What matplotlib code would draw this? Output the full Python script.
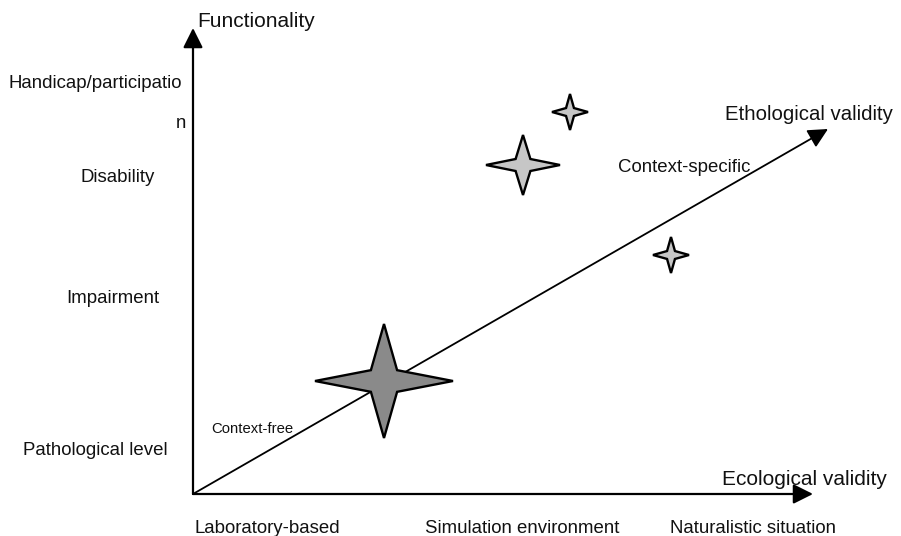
import matplotlib
matplotlib.use('Agg')
import matplotlib.pyplot as plt
from matplotlib.patches import Polygon

plt.rcParams['font.family'] = ['Liberation Sans', 'DejaVu Sans']

# diagram layout in pixel units of the 901x536 picture
origin = (193, 494)
axis_tips = {'functionality': (193, 28), 'ecological': (813, 494), 'ethological': (828, 129)}

# left-hand labels (functional level) and bottom labels (setting)
level_labels = ['Handicap/participatio', 'n', 'Disability', 'Impairment', 'Pathological level']
level_x = [8, 176, 80, 66, 23]
level_y = [88, 128, 182, 303, 455]

setting_labels = ['Laboratory-based', 'Simulation environment', 'Naturalistic situation']
setting_x = [195, 425, 670]
setting_y = 533

# stars: centre, half-width, half-height, fill
star_cx = [384, 523, 570, 671]
star_cy = [381, 165, 112, 255]
star_rx = [69, 37, 18, 18]
star_ry = [57, 30, 18, 18]
star_fill = ['#8a8a8a', '#c6c6c6', '#c6c6c6', '#c6c6c6']
inner_ratio = [0.19, 0.2, 0.22, 0.22]


def star_points(cx, cy, rx, ry, k):
    ix, iy = rx * k, ry * k
    return [(cx + rx, cy), (cx + ix, cy - iy), (cx, cy - ry), (cx - ix, cy - iy),
            (cx - rx, cy), (cx - ix, cy + iy), (cx, cy + ry), (cx + ix, cy + iy)]


fig = plt.figure(figsize=(9.01, 5.36), dpi=100)
ax = fig.add_axes([0, 0, 1, 1])
ax.set_xlim(0, 901)
ax.set_ylim(536, 0)
ax.axis('off')

# axes arrows
for name, tip in axis_tips.items():
    lw = 1.3 if name == 'ethological' else 1.6
    ax.annotate('', xy=tip, xytext=origin,
                arrowprops=dict(arrowstyle='-|>,head_length=0.6,head_width=0.3',
                                mutation_scale=20, lw=lw, color='black',
                                shrinkA=0, shrinkB=0))

# stars
for cx, cy, rx, ry, fc, k in zip(star_cx, star_cy, star_rx, star_ry, star_fill, inner_ratio):
    ax.add_patch(Polygon(star_points(cx, cy, rx, ry, k), closed=True,
                         facecolor=fc, edgecolor='black', lw=1.7, zorder=3))

txt = '#111111'
ax.text(197, 27, 'Functionality', fontsize=15, color=txt, va='baseline')
ax.text(722, 485, 'Ecological validity', fontsize=15, color=txt, va='baseline')
ax.text(725, 120, 'Ethological validity', fontsize=14.7, color=txt, va='baseline')
ax.text(618, 172, 'Context-specific', fontsize=13.4, color=txt, va='baseline')
ax.text(211, 433, 'Context-free', fontsize=10.7, color=txt, va='baseline')

for lab, x, y in zip(level_labels, level_x, level_y):
    ax.text(x, y, lab, fontsize=13.4, color=txt, va='baseline')

for lab, x in zip(setting_labels, setting_x):
    ax.text(x, setting_y, lab, fontsize=13.4, color=txt, va='baseline')

fig.savefig('out.png', dpi=100)
